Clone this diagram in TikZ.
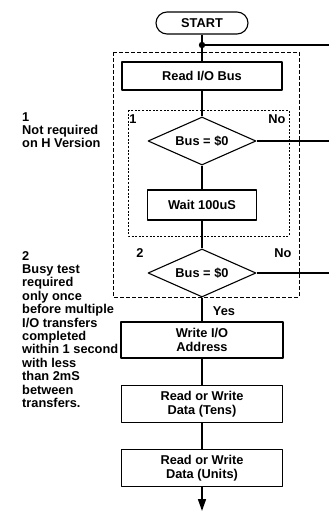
\documentclass[tikz,border=0pt]{standalone}
\usepackage{fontspec}
\setmainfont{Liberation Sans}
\usetikzlibrary{shapes.geometric,arrows.meta}
\begin{document}
\begin{tikzpicture}[x=1pt, y=-1pt, font=\bfseries\fontsize{12.8}{13.4}\selectfont, line join=round, >={Triangle[length=12pt,width=8pt]},
    stepbox/.style={draw, line width=1.1pt, inner sep=0pt, align=center},
    testbox/.style={draw, diamond, aspect=2.25, line width=1.1pt, inner sep=0pt, minimum width=108pt, minimum height=48pt},
    flow/.style={line width=1.6pt},
    note/.style={anchor=north west, align=left, inner sep=0pt}]
    \useasboundingbox (0,0) rectangle (329,512);
    \def \cx{202} % flow axis
    \def \ex{329} % loop-back edge
    % groups
    \draw[line width=0.9pt, dash pattern=on 4pt off 2pt] (113,52) rectangle (299,297);
    \draw[line width=0.9pt, dash pattern=on 2pt off 1.6pt] (128,110) rectangle (289,236);
    % steps
    \node[stepbox, rounded corners=11pt, minimum width=92pt, minimum height=22pt] (start) at (\cx,23) {START};
    \coordinate (join) at (\cx,45);
    \node[stepbox, minimum width=160pt, minimum height=28pt] (readbus) at (\cx,76) {Read I/O Bus};
    \node[testbox] (busA) at (\cx,141) {Bus = \$0};
    \node[stepbox, minimum width=109pt, minimum height=30pt] (wait) at (\cx,205) {Wait 100uS};
    \node[testbox] (busB) at (\cx,273) {Bus = \$0};
    \node[stepbox, minimum width=162pt, minimum height=36pt] (write) at (\cx,340) {Write I/O\\Address};
    \node[stepbox, minimum width=161pt, minimum height=37pt] (tens) at (\cx,404) {Read or Write\\Data (Tens)};
    \node[stepbox, minimum width=161pt, minimum height=37pt] (units) at (\cx,468) {Read or Write\\Data (Units)};
    \coordinate (out) at (\cx,511);
    \coordinate (loopJ) at (\ex,45);
    \coordinate (loopA) at (\ex,141);
    \coordinate (loopB) at (\ex,273);
    % connectors
    \draw[flow] (start) -- (join) -- (readbus);
    \foreach \a/\b in {readbus/busA, busA/wait, wait/busB, busB/write, write/tens, tens/units}
        \draw[flow] (\a) -- (\b);
    \draw[flow, ->] (units) -- (out);
    \fill (join) circle (3.2pt);
    \draw[line width=1.1pt] (join) -- (loopJ);
    \draw[line width=1.1pt] (busA.east) -- (loopA);
    \draw[line width=1.1pt] (busB.east) -- (loopB);
    % labels
    \node at (133,119) (markA) {1};
    \node at (277,119) (noA) {No};
    \node at (140,253) (markB) {2};
    \node at (283,253) (noB) {No};
    \node at (224,311) (yesB) {Yes};
    % notes
    \node[note] (noteA) at (22,112) {1\\Not required\\on H Version};
    \node[note] (noteB) at (22,251) {2\\Busy test\\required\\only once\\before multiple\\I/O transfers\\completed\\within 1 second\\with less\\than 2mS\\between\\transfers.};
\end{tikzpicture}
\end{document}
